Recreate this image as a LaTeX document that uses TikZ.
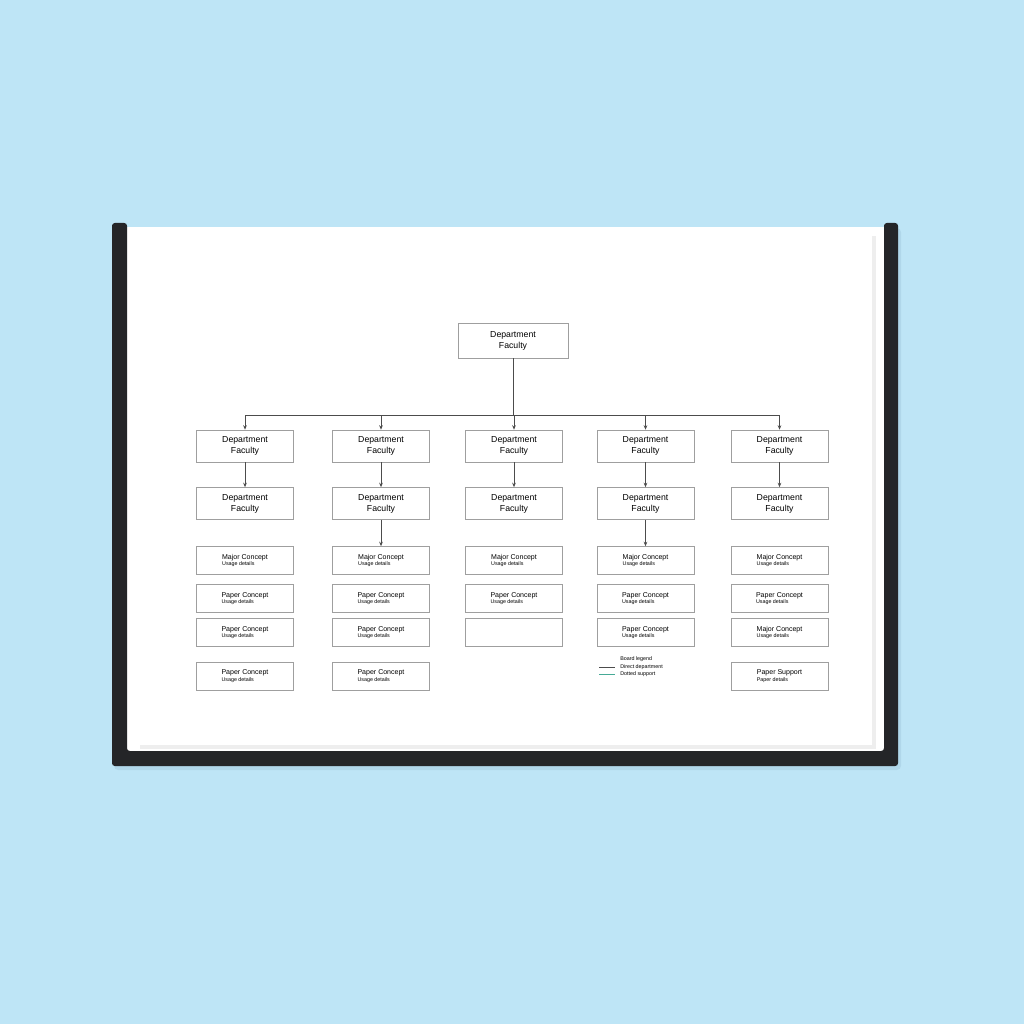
\documentclass[tikz,border=0pt]{standalone}
\usepackage{fontspec}
\setmainfont{Liberation Sans}
\usetikzlibrary{arrows.meta}

\definecolor{wallblue}{RGB}{190,229,246}
\definecolor{wallshade}{RGB}{176,215,234}
\definecolor{framedark}{RGB}{36,37,40}
\definecolor{legendteal}{RGB}{70,170,150}

\newcommand{\conceptlabel}[2]{#1\\[-1.5pt]{\fontsize{3.8}{4.5}\selectfont #2}}

\begin{document}
\begin{tikzpicture}[x=0.025cm,y=-0.025cm]

\tikzstyle{rootbox}=[align=center,draw=gray!75,fill=white,minimum width=2.75cm,
minimum height=0.875cm,inner sep=1pt,font=\fontsize{6.2}{7.8}\selectfont]
\tikzstyle{deptbox}=[rootbox,minimum width=2.43cm,minimum height=0.8cm]
\tikzstyle{itembox}=[deptbox,align=left,minimum height=0.7cm,font=\fontsize{5}{6}\selectfont]
\tikzstyle{link}=[draw=black!70,line width=0.6pt]
\tikzstyle{arrow}=[link,-{Stealth[length=3.2pt,width=2.6pt]}]

% wall and board
\useasboundingbox (0,0) rectangle (1024,1024);
\fill[wallblue] (0,0) rectangle (1024,1024);
\fill[wallshade,rounded corners=3pt] (114,228) rectangle (901,770);
\fill[white] (127,227) rectangle (884,751);
\fill[gray!13] (140,236) rectangle (876,749);
\fill[white] (127,227) rectangle (872,745);
\fill[framedark,rounded corners=2pt] (112,223) -- (127,223) -- (127,751) -- (884,751)
  -- (884,223) -- (898,223) -- (898,766) -- (112,766) -- cycle;

% chart
\node[rootbox] (root) at (513,340.5) {Department\\Faculty};

\node[deptbox] (dept1) at (245,446) {Department\\Faculty};
\node[deptbox] (dept2) at (381,446) {Department\\Faculty};
\node[deptbox] (dept3) at (514,446) {Department\\Faculty};
\node[deptbox] (dept4) at (645.5,446) {Department\\Faculty};
\node[deptbox] (dept5) at (779.5,446) {Department\\Faculty};

\node[deptbox] (unit1) at (245,503.5) {Department\\Faculty};
\node[deptbox] (unit2) at (381,503.5) {Department\\Faculty};
\node[deptbox] (unit3) at (514,503.5) {Department\\Faculty};
\node[deptbox] (unit4) at (645.5,503.5) {Department\\Faculty};
\node[deptbox] (unit5) at (779.5,503.5) {Department\\Faculty};

\node[itembox] (topic1) at (245,560.5) {\conceptlabel{Major Concept}{Usage details}};
\node[itembox] (topic2) at (381,560.5) {\conceptlabel{Major Concept}{Usage details}};
\node[itembox] (topic3) at (514,560.5) {\conceptlabel{Major Concept}{Usage details}};
\node[itembox] (topic4) at (645.5,560.5) {\conceptlabel{Major Concept}{Usage details}};
\node[itembox] (topic5) at (779.5,560.5) {\conceptlabel{Major Concept}{Usage details}};

\node[itembox] (note1) at (245,598.5) {\conceptlabel{Paper Concept}{Usage details}};
\node[itembox] (note2) at (381,598.5) {\conceptlabel{Paper Concept}{Usage details}};
\node[itembox] (note3) at (514,598.5) {\conceptlabel{Paper Concept}{Usage details}};
\node[itembox] (note4) at (645.5,598.5) {\conceptlabel{Paper Concept}{Usage details}};
\node[itembox] (note5) at (779.5,598.5) {\conceptlabel{Paper Concept}{Usage details}};

\node[itembox] (task1) at (245,632.5) {\conceptlabel{Paper Concept}{Usage details}};
\node[itembox] (task2) at (381,632.5) {\conceptlabel{Paper Concept}{Usage details}};
\node[itembox] (task3) at (514,632.5) {};
\node[itembox] (task4) at (645.5,632.5) {\conceptlabel{Paper Concept}{Usage details}};
\node[itembox] (task5) at (779.5,632.5) {\conceptlabel{Major Concept}{Usage details}};

\node[itembox] (extra1) at (245,676) {\conceptlabel{Paper Concept}{Usage details}};
\node[itembox] (extra2) at (381,676) {\conceptlabel{Paper Concept}{Usage details}};
\node[itembox] (extra5) at (779.5,676) {\conceptlabel{Paper Support}{Paper details}};

% connectors
\coordinate (bus) at (513,415);
\draw[link] (root.south) -- (root.south |- bus);
\draw[link] (dept1.north |- bus) -- (dept5.north |- bus);
\draw[arrow] (dept1.north |- bus) -- (dept1.north);
\draw[arrow] (dept2.north |- bus) -- (dept2.north);
\draw[arrow] (dept3.north |- bus) -- (dept3.north);
\draw[arrow] (dept4.north |- bus) -- (dept4.north);
\draw[arrow] (dept5.north |- bus) -- (dept5.north);

\draw[arrow] (dept1.south) -- (unit1.north);
\draw[arrow] (dept2.south) -- (unit2.north);
\draw[arrow] (dept3.south) -- (unit3.north);
\draw[arrow] (dept4.south) -- (unit4.north);
\draw[arrow] (dept5.south) -- (unit5.north);

\draw[arrow] (unit2.south) -- (topic2.north);
\draw[arrow] (unit4.south) -- (topic4.north);

% legend
\node[anchor=west,inner sep=0pt,font=\fontsize{3.8}{4.5}\selectfont] (legtitle) at (620,659.5) {Board legend};
\node[anchor=west,inner sep=0pt,font=\fontsize{3.8}{4.5}\selectfont] (legdirect) at (620,667) {Direct department};
\node[anchor=west,inner sep=0pt,font=\fontsize{3.8}{4.5}\selectfont] (legsupport) at (620,674) {Dotted support};
\draw[black!70,line width=0.6pt] (599,667) -- (615,667);
\draw[legendteal,line width=0.6pt] (599,674) -- (615,674);

\end{tikzpicture}
\end{document}
